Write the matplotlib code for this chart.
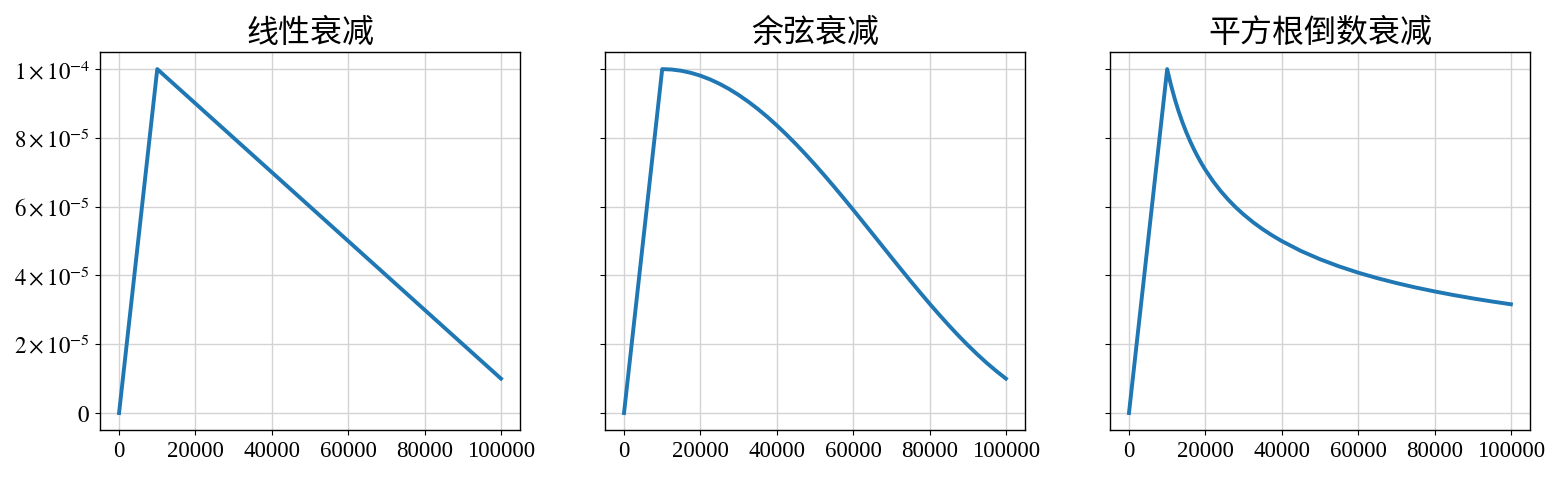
import matplotlib
matplotlib.use("Agg")
import matplotlib.pyplot as plt
from matplotlib.ticker import FixedLocator, FixedFormatter

# ---- data ----
titles = ["线性衰减", "余弦衰减", "平方根倒数衰减"]

linear_steps = [0, 10000, 100000]
linear_lr = [0.0, 1.0e-4, 1.0e-5]

cosine_steps = [0, 10000, 12500, 15000, 17500, 20000, 22500, 25000, 27500, 30000, 32500,
                35000, 37500, 40000, 42500, 45000, 47500, 50000, 52500, 55000, 57500,
                60000, 62500, 65000, 67500, 70000, 72500, 75000, 77500, 80000, 82500,
                85000, 87500, 90000, 92500, 95000, 97500, 100000]
cosine_lr = [0.0, 1.000e-4, 9.988e-5, 9.952e-5, 9.892e-5, 9.809e-5, 9.702e-5, 9.573e-5,
             9.422e-5, 9.249e-5, 9.056e-5, 8.844e-5, 8.613e-5, 8.364e-5, 8.100e-5,
             7.821e-5, 7.527e-5, 7.222e-5, 6.906e-5, 6.581e-5, 6.248e-5, 5.910e-5,
             5.566e-5, 5.221e-5, 4.874e-5, 4.527e-5, 4.183e-5, 3.843e-5, 3.509e-5,
             3.181e-5, 2.863e-5, 2.555e-5, 2.258e-5, 1.975e-5, 1.706e-5, 1.453e-5,
             1.218e-5, 1.000e-5]

rsqrt_steps = [0, 10000, 11000, 12000, 13000, 14000, 15000, 16000, 17000, 18000, 19000,
               20000, 22000, 24000, 26000, 28000, 30000, 32500, 35000, 37500, 40000,
               45000, 50000, 55000, 60000, 65000, 70000, 75000, 80000, 85000, 90000,
               95000, 100000]
rsqrt_lr = [0.0, 1.000e-4, 9.535e-5, 9.129e-5, 8.771e-5, 8.452e-5, 8.165e-5, 7.906e-5,
            7.670e-5, 7.454e-5, 7.255e-5, 7.071e-5, 6.742e-5, 6.455e-5, 6.202e-5,
            5.976e-5, 5.774e-5, 5.547e-5, 5.345e-5, 5.164e-5, 5.000e-5, 4.714e-5,
            4.472e-5, 4.264e-5, 4.082e-5, 3.922e-5, 3.780e-5, 3.651e-5, 3.536e-5,
            3.430e-5, 3.333e-5, 3.244e-5, 3.162e-5]

ytick_values = [0.0, 2e-5, 4e-5, 6e-5, 8e-5, 1e-4]
ytick_labels = ["$0$", r"$2\times10^{-5}$", r"$4\times10^{-5}$", r"$6\times10^{-5}$",
                r"$8\times10^{-5}$", r"$1\times10^{-4}$"]
xtick_values = [0, 20000, 40000, 60000, 80000, 100000]
xtick_labels = ["0", "20000", "40000", "60000", "80000", "100000"]

# ---- style ----
plt.rcParams["font.family"] = ["Liberation Serif", "Noto Sans CJK SC", "DejaVu Sans"]
plt.rcParams["mathtext.fontset"] = "stix"

fig, axes = plt.subplots(1, 3, figsize=(15.62, 4.81), dpi=100, sharey=True)
fig.subplots_adjust(left=0.064, right=0.9795, bottom=0.1035, top=0.890, wspace=0.202)

series = [(linear_steps, linear_lr), (cosine_steps, cosine_lr), (rsqrt_steps, rsqrt_lr)]
for ax, title, (xs, ys) in zip(axes, titles, series):
    ax.plot(xs, ys, color="#1f77b4", linewidth=2.8)
    ax.set_title(title, fontsize=23, family=["Noto Sans CJK SC", "DejaVu Sans"], pad=8)
    ax.grid(True, color="#d3d3d3", linewidth=1.0)
    ax.set_axisbelow(True)
    ax.xaxis.set_major_locator(FixedLocator(xtick_values))
    ax.xaxis.set_major_formatter(FixedFormatter(xtick_labels))
    ax.tick_params(labelsize=16.5)
    ax.set_xlim(-5000, 105000)
    for sp in ax.spines.values():
        sp.set_linewidth(1.0)

axes[0].yaxis.set_major_locator(FixedLocator(ytick_values))
axes[0].yaxis.set_major_formatter(FixedFormatter(ytick_labels))
axes[0].set_ylim(-0.5e-5, 1.05e-4)

fig.savefig("out.png", dpi=100)
